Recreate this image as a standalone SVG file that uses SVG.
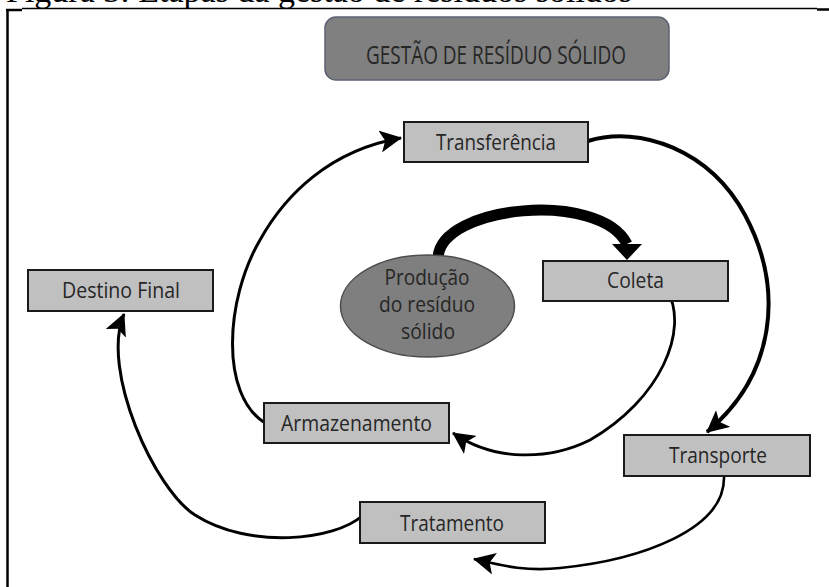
<svg xmlns="http://www.w3.org/2000/svg" width="829" height="587" viewBox="0 0 829 587">
  <style>
    .box { fill: #c0c0c0; stroke: #1a1a1a; stroke-width: 2; }
    .lbl { font-family: "Open Sans", "Liberation Sans", sans-serif; font-size: 21px; fill: #262626; text-anchor: middle; }
    .link { fill: none; stroke: #000; stroke-linecap: butt; }
    .frame { stroke: #000; fill: none; }
  </style>
  <defs>
    <marker id="head" viewBox="0 0 22 22" markerWidth="22" markerHeight="22" refX="21" refY="11" orient="auto" markerUnits="userSpaceOnUse">
      <path d="M0,0 L22,11 L0,22 L5,11 z" fill="#000"/>
    </marker>
    <marker id="head-big" viewBox="0 0 16 30" markerWidth="16" markerHeight="30" refX="0" refY="15" orient="90" markerUnits="userSpaceOnUse">
      <path d="M0,0 L16,15 L0,30 z" fill="#000"/>
    </marker>
  </defs>

  <rect width="829" height="587" fill="#fff"/>

  <!-- caption, running off the top edge -->
  <text x="6" y="1.5" font-family="'Liberation Serif', serif" font-size="34" fill="#000">Figura 3: Etapas da gestão de resíduos sólidos</text>

  <!-- frame -->
  <g id="frame" class="frame">
    <line x1="22" y1="8.5" x2="817" y2="8.5" stroke-width="1.3"/>
    <line x1="6" y1="10" x2="22" y2="10" stroke-width="2.5"/>
    <line x1="817" y1="9.5" x2="829" y2="9.5" stroke-width="2.5"/>
    <line x1="7.5" y1="9" x2="7.5" y2="587" stroke-width="2.5"/>
  </g>

  <!-- title -->
  <g id="title">
    <rect x="325" y="17" width="344" height="63" rx="11" fill="#808080" stroke="#5b6172" stroke-width="1.5"/>
    <text x="496" y="64" font-family="'Open Sans', 'Liberation Sans', sans-serif" font-size="26" fill="#262626" text-anchor="middle" textLength="260" lengthAdjust="spacingAndGlyphs">GESTÃO DE RESÍDUO SÓLIDO</text>
  </g>

  <!-- connectors -->
  <g id="connectors">
    <path class="link" d="M438,258 C440,205 600,190 627,244" stroke-width="11" marker-end="url(#head-big)"/>
    <path class="link" d="M667,290 C690,330 660,400 590,440 C550,460 495,462 453,433" stroke-width="2.8" marker-end="url(#head)"/>
    <path class="link" d="M265,423 C220,395 225,300 260,240 C285,195 330,150 401,138" stroke-width="3" marker-end="url(#head)"/>
    <path class="link" d="M588,141 C640,125 710,150 745,215 C785,290 775,375 707,432" stroke-width="4" marker-end="url(#head)"/>
    <path class="link" d="M724,477 C725,530 640,560 560,568 C525,572 500,565 474,559" stroke-width="2.6" marker-end="url(#head)"/>
    <path class="link" d="M362,516 C335,540 250,550 195,515 C155,490 100,370 124,314" stroke-width="3" marker-end="url(#head)"/>
  </g>

  <!-- nodes -->
  <g id="producao">
    <ellipse cx="427.5" cy="306" rx="87" ry="51" fill="#7f7f7f" stroke="#4d4d4d" stroke-width="1.5"/>
    <text class="lbl" x="427" y="285" textLength="85" lengthAdjust="spacingAndGlyphs">Produção</text>
    <text class="lbl" x="427" y="312" textLength="96" lengthAdjust="spacingAndGlyphs">do resíduo</text>
    <text class="lbl" x="428" y="339" textLength="54" lengthAdjust="spacingAndGlyphs">sólido</text>
  </g>
  <g id="transferencia">
    <rect class="box" x="404" y="122" width="184" height="40"/>
    <text class="lbl" x="496" y="150" textLength="120" lengthAdjust="spacingAndGlyphs">Transferência</text>
  </g>
  <g id="coleta">
    <rect class="box" x="543" y="261" width="185" height="40"/>
    <text class="lbl" x="635.5" y="288" textLength="57" lengthAdjust="spacingAndGlyphs">Coleta</text>
  </g>
  <g id="destino-final">
    <rect class="box" x="28" y="270" width="185" height="41"/>
    <text class="lbl" x="121" y="298" textLength="118" lengthAdjust="spacingAndGlyphs">Destino Final</text>
  </g>
  <g id="armazenamento">
    <rect class="box" x="264" y="403" width="185" height="40"/>
    <text class="lbl" x="356.5" y="431" textLength="151" lengthAdjust="spacingAndGlyphs">Armazenamento</text>
  </g>
  <g id="transporte">
    <rect class="box" x="624" y="435" width="186" height="41"/>
    <text class="lbl" x="718" y="463" textLength="98" lengthAdjust="spacingAndGlyphs">Transporte</text>
  </g>
  <g id="tratamento">
    <rect class="box" x="360" y="502" width="185" height="41"/>
    <text class="lbl" x="452" y="531" textLength="104" lengthAdjust="spacingAndGlyphs">Tratamento</text>
  </g>
</svg>
